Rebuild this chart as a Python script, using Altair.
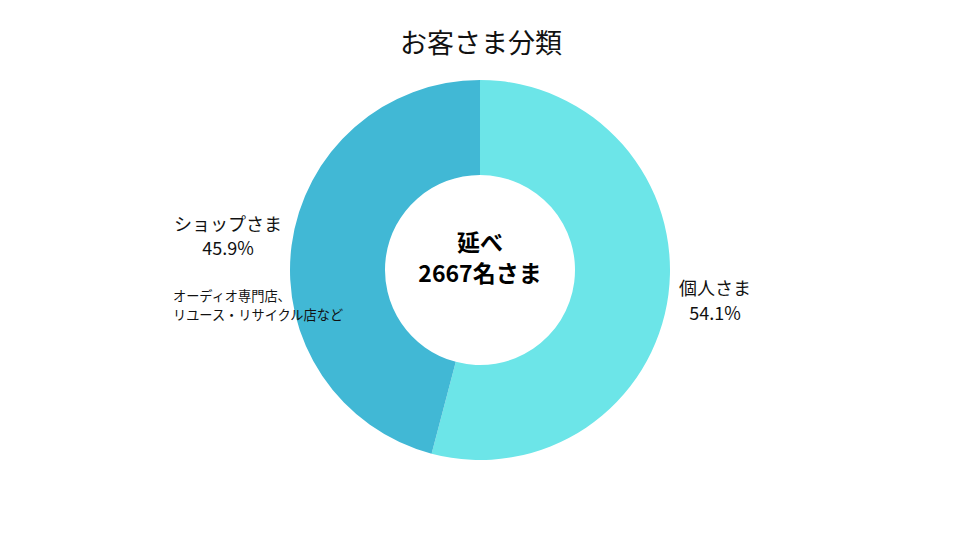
import altair as alt
import pandas as pd

categories = ["個人さま", "ショップさま"]
values = [54.1, 45.9]
colors = ["#6CE5E8", "#41B8D5"]
order = [1, 2]

df = pd.DataFrame({"category": categories, "value": values, "order": order})

FONT = "Noto Sans CJK JP"
W, H = 944, 524

arc = alt.Chart(df).mark_arc(outerRadius=190, innerRadius=95).encode(
    theta=alt.Theta("value:Q", stack=True),
    order=alt.Order("order:Q"),
    color=alt.Color("category:N", scale=alt.Scale(domain=categories, range=colors), legend=None),
)

def txt(text, x, y, size, weight="normal", align="center", color="#111111"):
    return alt.Chart(pd.DataFrame({"t": [text]})).mark_text(
        font=FONT, fontSize=size, fontWeight=weight, align=align, baseline="middle", color=color
    ).encode(text="t:N", x=alt.value(x - 8), y=alt.value(y - 8))

layers = [
    arc,
    txt("お客さま分類", 481, 45, 27, 400),
    txt("延べ", 480, 244, 23, "bold", color="#000000"),
    txt("2667名さま", 480, 275, 23, "bold", color="#000000"),
    txt("ショップさま", 228, 226, 18, 400),
    txt(f"{values[1]}%", 228, 250, 18, 400),
    txt("オーディオ専門店、", 173, 297, 13.2, 400, align="left"),
    txt("リユース・リサイクル店など", 173, 316, 13.2, 400, align="left"),
    txt("個人さま", 715, 290, 18, 400),
    txt(f"{values[0]}%", 715, 315, 18, 400),
]

chart = alt.layer(*layers).properties(
    width=W, height=H, padding=0, autosize=alt.AutoSizeParams(type="none")
).configure_view(strokeWidth=0, stroke="transparent")

chart.save("out.html", embed_options={"renderer": "svg", "actions": False})
